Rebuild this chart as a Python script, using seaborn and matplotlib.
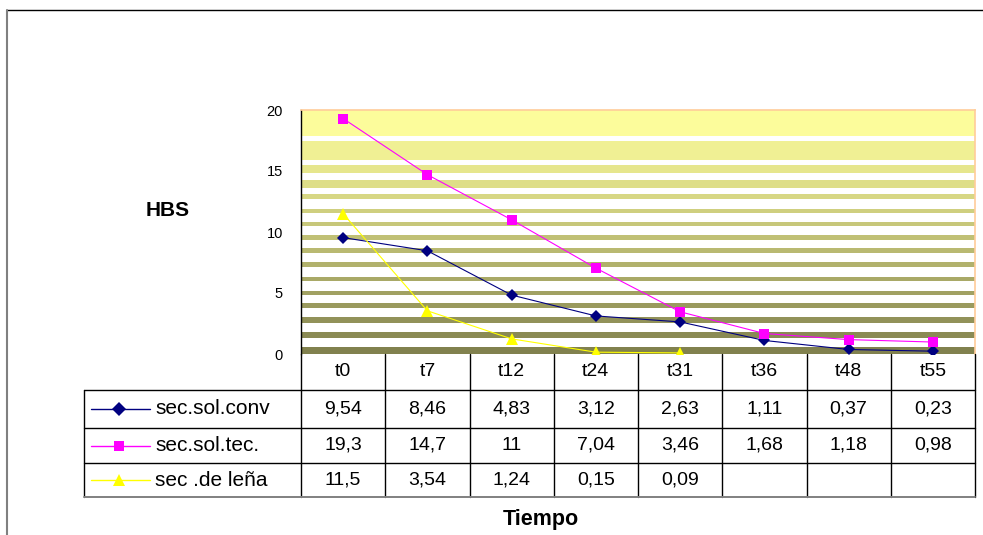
import numpy as np
import pandas as pd
import matplotlib
matplotlib.use("Agg")
import matplotlib.pyplot as plt
from matplotlib.lines import Line2D
from matplotlib.transforms import blended_transform_factory
import seaborn as sns

# ---- data ----
periods = ["t0", "t7", "t12", "t24", "t31", "t36", "t48", "t55"]
sol_conv = [9.54, 8.46, 4.83, 3.12, 2.63, 1.11, 0.37, 0.23]
sol_tec = [19.3, 14.7, 11, 7.04, 3.46, 1.68, 1.18, 0.98]
lena = [11.5, 3.54, 1.24, 0.15, 0.09, None, None, None]
series_names = ["sec.sol.conv", "sec.sol.tec.", "sec .de leña"]
y_ticks = [0, 5, 10, 15, 20]

series_values = [sol_conv, sol_tec, lena]

# ---- styling ----
sns.set_theme(style="white")
plt.rcParams["font.family"] = ["Liberation Sans", "DejaVu Sans"]
plt.rcParams["text.color"] = "black"
plt.rcParams["axes.labelcolor"] = "black"
plt.rcParams["ytick.color"] = "black"

W, H = 983, 535
fig = plt.figure(figsize=(W / 100, H / 100), dpi=100)

def fx(px):
    return px / W

def fy(py):
    return 1 - py / H

plot_l, plot_r, plot_t, plot_b = 301, 975, 110, 354
ax = fig.add_axes([fx(plot_l), fy(plot_b), fx(plot_r - plot_l), (plot_b - plot_t) / H])

styles = {
    "sec.sol.conv": dict(color="#000080", marker="D", markersize=6.0),
    "sec.sol.tec.": dict(color="#FF00FF", marker="s", markersize=6.5),
    "sec .de leña": dict(color="#FFFF00", marker="^", markersize=8.0),
}

# banded gradient background (pixel rows inside the plot area)
band_px = [(110, 136), (141, 160), (165, 173), (180, 188), (194, 199), (209, 213),
           (222, 226), (235, 240), (248, 253), (262, 267), (277, 281), (291, 295),
           (303, 308), (317, 323), (332, 338), (347, 354)]
top_rgb = np.array([252, 252, 155]) / 255
bot_rgb = np.array([127, 127, 77]) / 255
span = plot_b - plot_t
for a, b in band_px:
    t = ((a + b) / 2 - plot_t) / span
    t = max(0.0, (t - 0.08) / 0.92)
    col = top_rgb + (bot_rgb - top_rgb) * t
    ax.axhspan(20 * (plot_b - b) / span, 20 * (plot_b - a) / span,
               color=col, lw=0, zorder=0)

x_idx = np.arange(len(periods))
for name, vals in zip(series_names, series_values):
    v = np.array([np.nan if val is None else val for val in vals], dtype=float)
    st = styles[name]
    sns.lineplot(x=x_idx, y=v, ax=ax, color=st["color"], marker=st["marker"],
                 markersize=st["markersize"], markeredgewidth=0, linewidth=0.8,
                 errorbar=None, zorder=3)

ax.set_xlim(-0.5, len(periods) - 0.5)
ax.set_ylim(0, 20)
ax.set_xticks([])
ax.set_yticks(y_ticks)
ax.set_yticklabels([str(t) for t in y_ticks], fontsize=10.5)
for lbl in ax.get_yticklabels():
    lbl.set_y(lbl.get_position()[1])
ax.tick_params(axis="y", length=0, pad=13, colors="black")
ax.set_xlabel("")
ax.set_ylabel("HBS", rotation=0, fontsize=15, fontweight="bold", ha="center", va="center")
ax.yaxis.set_label_coords((168 - plot_l) / (plot_r - plot_l), (plot_b - 211) / span)

for side in ["top", "right"]:
    ax.spines[side].set_color("#FFCC99")
    ax.spines[side].set_linewidth(1.2)
ax.spines["left"].set_color("black")
ax.spines["left"].set_linewidth(1.0)
ax.spines["bottom"].set_visible(False)

# ---- data table below the plot ----
tr_col = blended_transform_factory(ax.transData, fig.transFigure)
tr_ax = blended_transform_factory(ax.transAxes, fig.transFigure)
left_frac = (84 - plot_l) / (plot_r - plot_l)
row_edges = [354, 390, 428, 463, 497]

for k in range(len(periods) + 1):
    fig.add_artist(Line2D([k - 0.5, k - 0.5], [fy(row_edges[0]), fy(row_edges[-1])],
                          transform=tr_col, color="black", lw=1.0))
fig.add_artist(Line2D([left_frac, left_frac], [fy(row_edges[1]), fy(row_edges[-1])],
                      transform=tr_ax, color="black", lw=1.0))
for i, r in enumerate(row_edges[1:]):
    last = i == len(row_edges) - 2
    fig.add_artist(Line2D([left_frac, 1.0], [fy(r), fy(r)], transform=tr_ax,
                          color="#808080" if last else "black", lw=1.4 if last else 1.0))

def fmt(v):
    return ("%g" % v).replace(".", ",")

hdr_y = fy((row_edges[0] + row_edges[1]) / 2)
for i, p in enumerate(periods):
    fig.text(i, hdr_y, p, transform=tr_col, ha="center", va="center", fontsize=14)

key_l = (91 - plot_l) / (plot_r - plot_l)
key_r = (150 - plot_l) / (plot_r - plot_l)
key_m = (119 - plot_l) / (plot_r - plot_l)
lab_x = (155 - plot_l) / (plot_r - plot_l)
for r, (name, vals) in enumerate(zip(series_names, series_values)):
    yc = fy((row_edges[r + 1] + row_edges[r + 2]) / 2)
    st = styles[name]
    fig.add_artist(Line2D([key_l, key_r], [yc, yc], transform=tr_ax,
                          color=st["color"], lw=1.0))
    fig.add_artist(Line2D([key_m], [yc], transform=tr_ax, color=st["color"],
                          marker=st["marker"], markersize=st["markersize"] + 1,
                          markeredgewidth=0, linestyle="none"))
    fig.text(lab_x, yc, name, transform=tr_ax, ha="left", va="center", fontsize=15)
    for i, val in enumerate(vals):
        if val is None:
            continue
        fig.text(i, yc, fmt(val), transform=tr_col, ha="center", va="center", fontsize=14)

fig.text(fx(541), fy(519), "Tiempo", ha="center", va="center", fontsize=15.5, fontweight="bold")

# outer chart frame
fig.add_artist(Line2D([fx(7), 1.0], [fy(9.5), fy(9.5)], color="black", lw=1.0))
fig.add_artist(Line2D([fx(7), fx(7)], [fy(9.5), 0.0], color="#808080", lw=1.5))

fig.savefig("out.png", dpi=100)
